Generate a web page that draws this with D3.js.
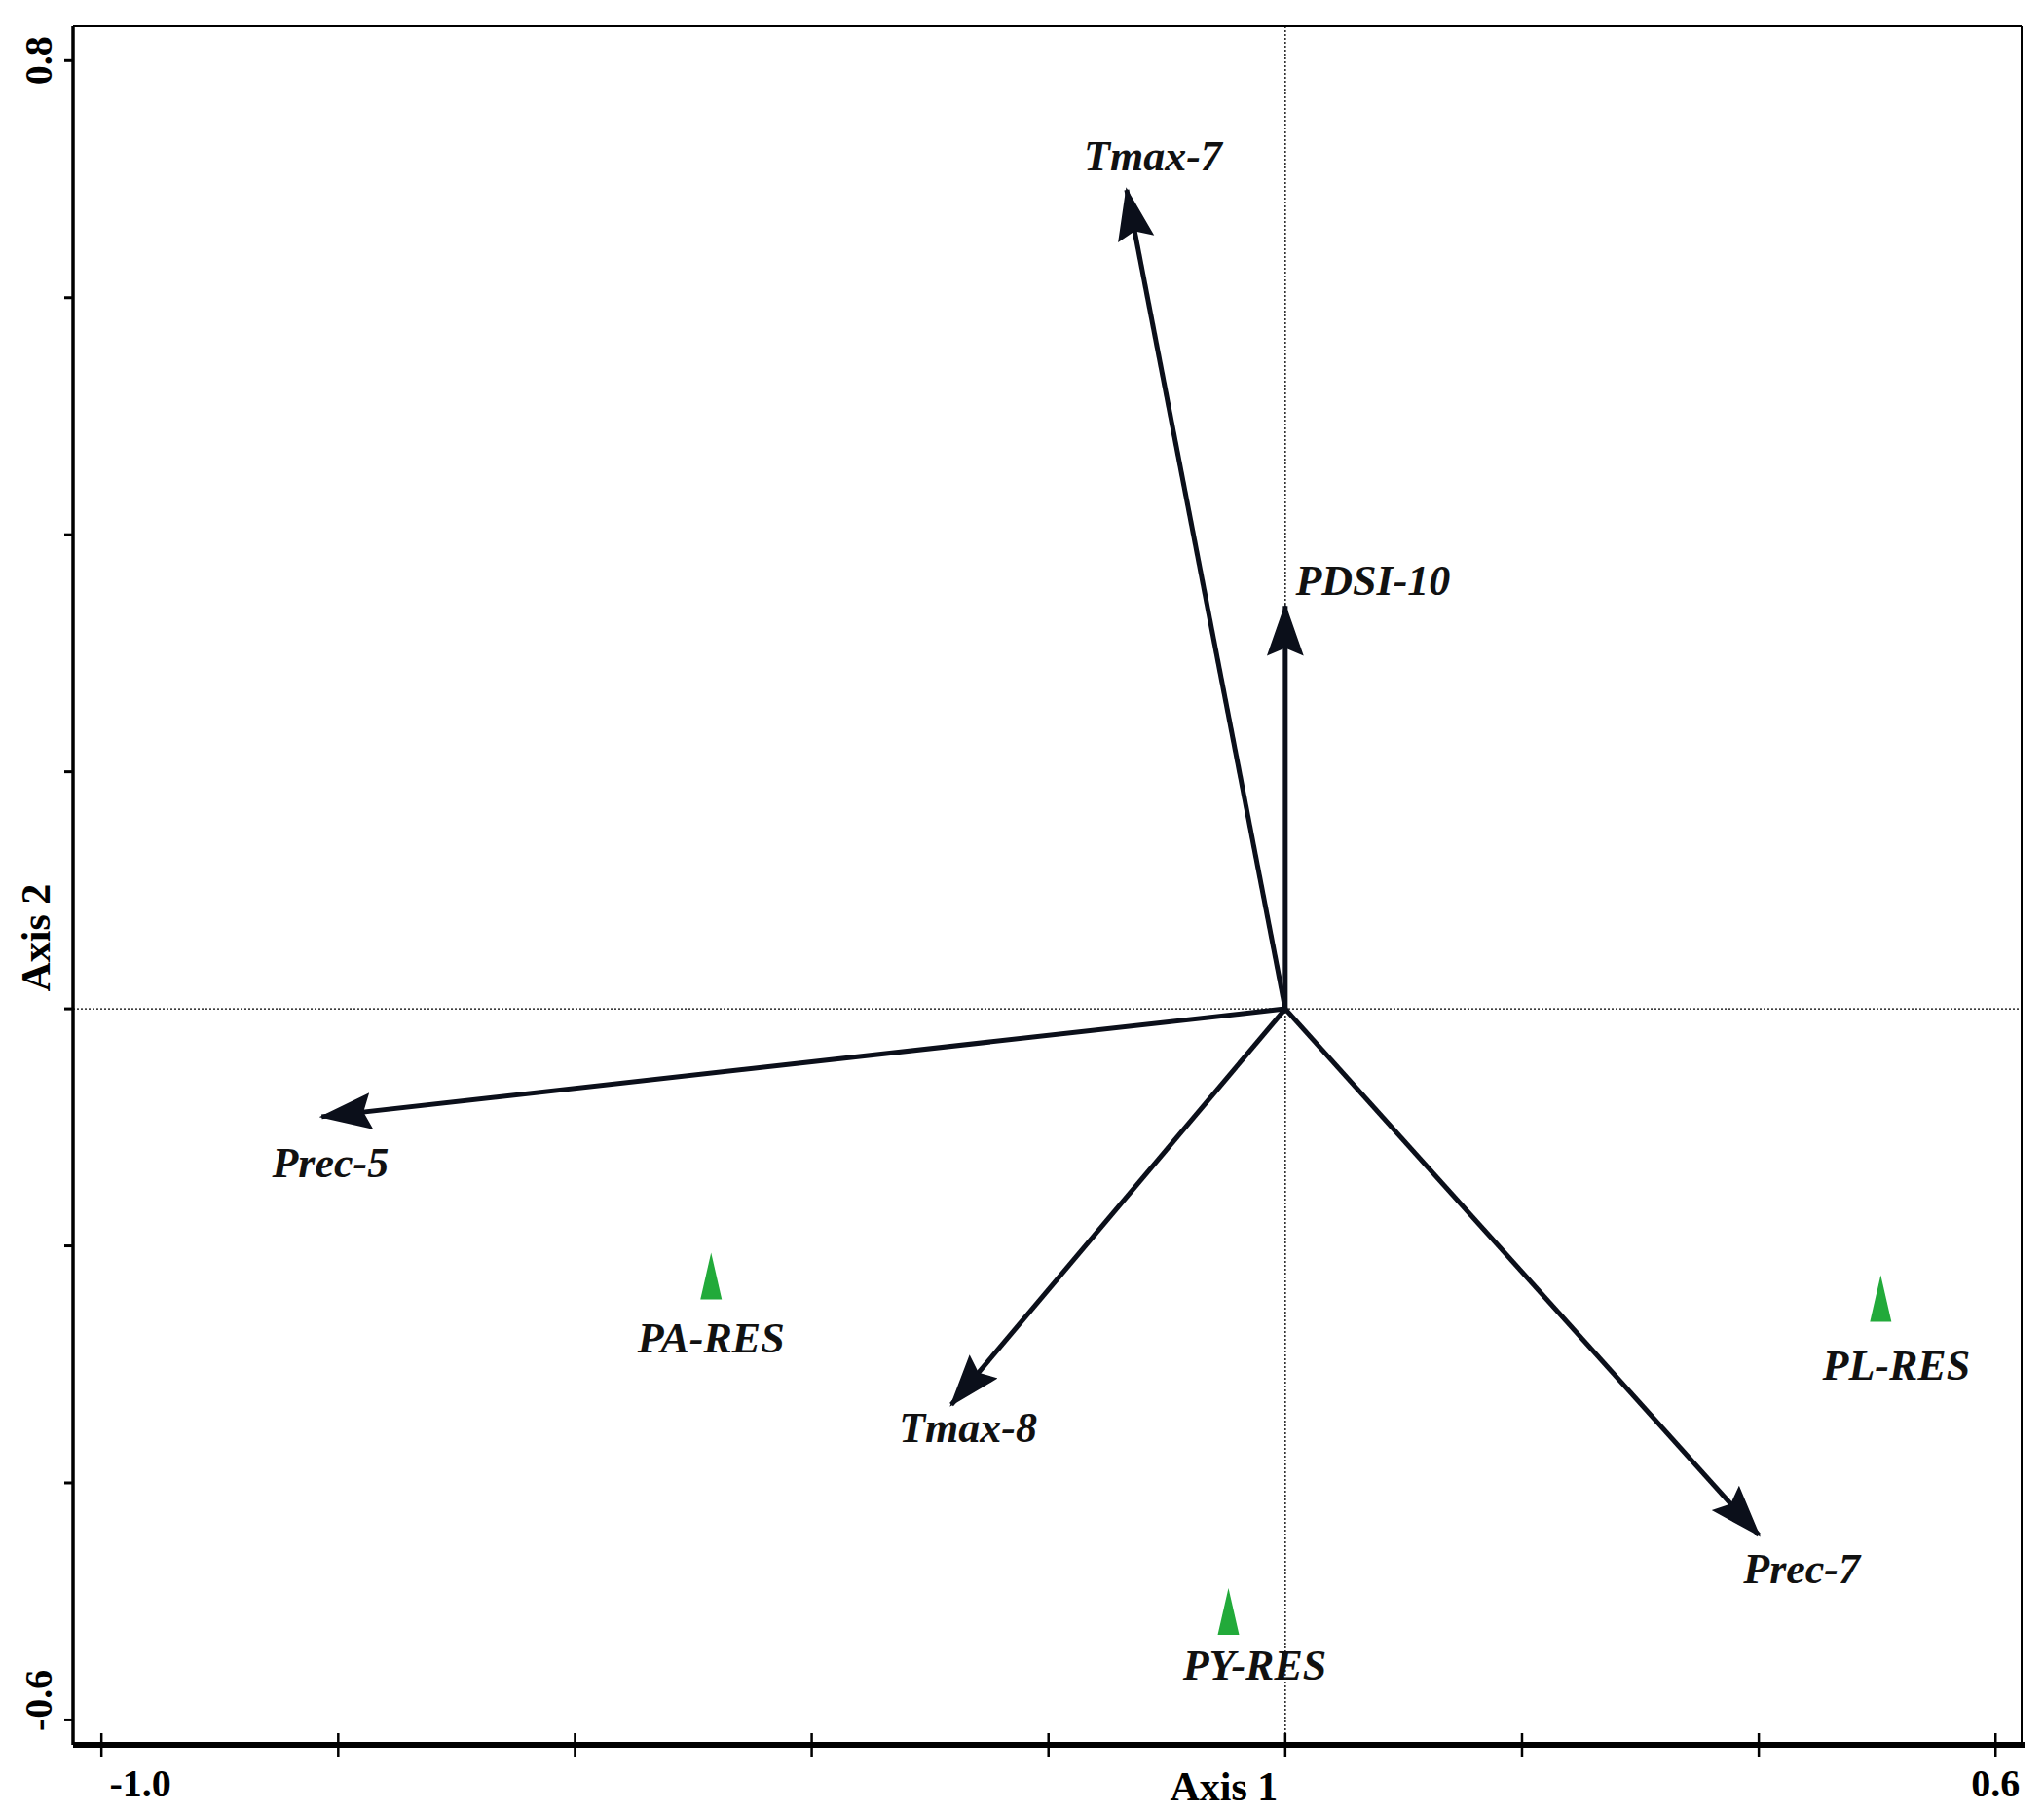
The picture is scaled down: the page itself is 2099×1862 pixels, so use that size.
<!DOCTYPE html>
<html><head><meta charset="utf-8">
<script src="https://cdn.jsdelivr.net/npm/d3@7"></script>
<style>body{margin:0;background:#fff}</style></head>
<body><svg id="c" width="2099" height="1862"></svg>
<script>
const vectors = ["Tmax-7","PDSI-10","Prec-5","Tmax-8","Prec-7"];
const vecX = [-0.134, 0.0, -0.814, -0.282, 0.400];
const vecY = [0.691, 0.340, -0.091, -0.334, -0.444];
const samples = ["PA-RES","PL-RES","PY-RES"];
const smpX = [-0.485, 0.503, -0.048];
const smpY = [-0.227, -0.246, -0.510];
const xTicks = [-1.0,-0.8,-0.6,-0.4,-0.2,0,0.2,0.4,0.6];
const yTicks = [0.8,0.6,0.4,0.2,0,-0.2,-0.4,-0.6];
// label offsets (px) relative to tips
const vecOff = [[27,-34],[90,-25],[9,48],[17,24],[44,35]];
const smpOff = [[0,63],[16,67],[27,54]];

const svg = d3.select("#c");
const L=75,R=2076,T=27,B=1792;
const x = d3.scaleLinear().domain([-1.024,0.622]).range([L,R]);
const y = d3.scaleLinear().domain([-0.621,0.829]).range([B,T]);
const font = "'Liberation Serif','Times New Roman',serif";

svg.append("line").attr("x1",L).attr("x2",R).attr("y1",T).attr("y2",T).attr("stroke","#000").attr("stroke-width",2);
svg.append("line").attr("x1",R).attr("x2",R).attr("y1",T).attr("y2",B).attr("stroke","#000").attr("stroke-width",2);
svg.append("line").attr("x1",L).attr("x2",L).attr("y1",T).attr("y2",B).attr("stroke","#000").attr("stroke-width",3.5);
svg.append("line").attr("x1",L).attr("x2",R+3).attr("y1",B).attr("y2",B).attr("stroke","#000").attr("stroke-width",6);

svg.append("line").attr("x1",x(0)).attr("x2",x(0)).attr("y1",T).attr("y2",B).attr("stroke","#000").attr("stroke-width",1.3).attr("stroke-dasharray","2,2");
svg.append("line").attr("x1",L).attr("x2",R).attr("y1",y(0)).attr("y2",y(0)).attr("stroke","#000").attr("stroke-width",1.3).attr("stroke-dasharray","2,2");

svg.selectAll(".xt").data(xTicks).enter().append("line")
 .attr("x1",d=>x(d)).attr("x2",d=>x(d)).attr("y1",B-12).attr("y2",B+12).attr("stroke","#000").attr("stroke-width",2.5);
svg.selectAll(".yt").data(yTicks).enter().append("line")
 .attr("x1",L-9).attr("x2",L).attr("y1",d=>y(d)).attr("y2",d=>y(d)).attr("stroke","#000").attr("stroke-width",3);

[[xTicks[0],"-1.0"],[xTicks[8],"0.6"]].forEach(([v,t])=>{
 svg.append("text").attr("x",x(v)+(v<0?40:0)).attr("y",B+53).attr("text-anchor","middle")
  .attr("font-family",font).attr("font-weight","bold").attr("font-size",40).text(t);
});
[[yTicks[0],"0.8"],[yTicks[7],"-0.6"]].forEach(([v,t])=>{
 svg.append("text").attr("transform",`translate(${L-22},${y(v)+(v<0?-20:0)}) rotate(-90)`).attr("text-anchor","middle")
  .attr("font-family",font).attr("font-weight","bold").attr("font-size",40).text(t);
});
svg.append("text").attr("x",x(0)-63).attr("y",B+57).attr("text-anchor","middle")
 .attr("font-family",font).attr("font-weight","bold").attr("font-size",42).text("Axis 1");
svg.append("text").attr("transform",`translate(${L-24},${y(0.06)}) rotate(-90)`).attr("text-anchor","middle")
 .attr("font-family",font).attr("font-weight","bold").attr("font-size",42).text("Axis 2");

svg.append("defs").append("marker").attr("id","ah").attr("viewBox","0 0 20 14")
 .attr("refX",19).attr("refY",7).attr("markerWidth",54).attr("markerHeight",40)
 .attr("markerUnits","userSpaceOnUse").attr("orient","auto")
 .append("path").attr("d","M0,0 L20,7 L0,14 L3,7 Z").attr("fill","#0b0f1a");

vectors.forEach((n,i)=>{
 svg.append("line").attr("x1",x(0)).attr("y1",y(0)).attr("x2",x(vecX[i])).attr("y2",y(vecY[i]))
  .attr("stroke","#0b0f1a").attr("stroke-width",5).attr("marker-end","url(#ah)");
 svg.append("text").attr("x",x(vecX[i])+vecOff[i][0]).attr("y",y(vecY[i])+vecOff[i][1]+14)
  .attr("text-anchor","middle").attr("font-family",font).attr("font-weight","bold").attr("font-style","italic")
  .attr("font-size",44).attr("fill","#111").text(n);
});

samples.forEach((n,i)=>{
 const cx=x(smpX[i]), cy=y(smpY[i]);
 svg.append("path").attr("d",`M${cx},${cy-26} L${cx+11},${cy+22} L${cx-11},${cy+22} Z`).attr("fill","#22aa3a");
 svg.append("text").attr("x",cx+smpOff[i][0]).attr("y",cy+smpOff[i][1]+14)
  .attr("text-anchor","middle").attr("font-family",font).attr("font-weight","bold").attr("font-style","italic")
  .attr("font-size",44).attr("fill","#111").text(n);
});
</script></body></html>
